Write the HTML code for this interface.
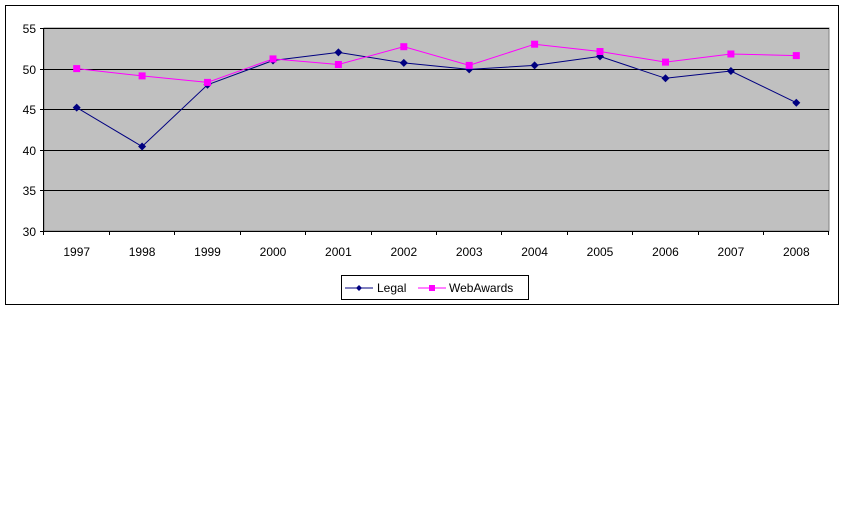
<!DOCTYPE html>
<html><head><meta charset="utf-8"><style>body{margin:0;background:#fff}svg{display:block}</style></head><body>
<svg width="845" height="512" xmlns="http://www.w3.org/2000/svg" font-family="Liberation Sans, Arial, sans-serif" font-size="12">
<rect x="5.5" y="5.5" width="833" height="299" fill="#fff" stroke="#000"/>
<rect x="44" y="28" width="785" height="203" fill="#c0c0c0" stroke="#808080"/>
<g stroke="#000" stroke-width="1">
<line x1="44" y1="28.5" x2="829" y2="28.5"/>
<line x1="44" y1="69.5" x2="829" y2="69.5"/>
<line x1="44" y1="109.5" x2="829" y2="109.5"/>
<line x1="44" y1="150.5" x2="829" y2="150.5"/>
<line x1="44" y1="190.5" x2="829" y2="190.5"/>
<line x1="44" y1="231.5" x2="829" y2="231.5"/>
<line x1="43.5" y1="28" x2="43.5" y2="232"/>
<line x1="40" y1="28.5" x2="44" y2="28.5"/><line x1="40" y1="69.5" x2="44" y2="69.5"/><line x1="40" y1="109.5" x2="44" y2="109.5"/><line x1="40" y1="150.5" x2="44" y2="150.5"/><line x1="40" y1="190.5" x2="44" y2="190.5"/><line x1="40" y1="231.5" x2="44" y2="231.5"/>
<line x1="43.5" y1="231" x2="43.5" y2="235"/><line x1="109.5" y1="231" x2="109.5" y2="235"/><line x1="174.5" y1="231" x2="174.5" y2="235"/><line x1="240.5" y1="231" x2="240.5" y2="235"/><line x1="305.5" y1="231" x2="305.5" y2="235"/><line x1="371.5" y1="231" x2="371.5" y2="235"/><line x1="436.5" y1="231" x2="436.5" y2="235"/><line x1="501.5" y1="231" x2="501.5" y2="235"/><line x1="567.5" y1="231" x2="567.5" y2="235"/><line x1="632.5" y1="231" x2="632.5" y2="235"/><line x1="698.5" y1="231" x2="698.5" y2="235"/><line x1="763.5" y1="231" x2="763.5" y2="235"/><line x1="828.5" y1="231" x2="828.5" y2="235"/>
</g>
<g text-anchor="end">
<text x="36" y="33">55</text><text x="36" y="74">50</text><text x="36" y="114">45</text><text x="36" y="155">40</text><text x="36" y="195">35</text><text x="36" y="236">30</text>
</g>
<g text-anchor="middle">
<text x="76.7" y="256">1997</text><text x="142.1" y="256">1998</text><text x="207.5" y="256">1999</text><text x="273" y="256">2000</text><text x="338.4" y="256">2001</text><text x="403.8" y="256">2002</text><text x="469.2" y="256">2003</text><text x="534.6" y="256">2004</text><text x="600" y="256">2005</text><text x="665.5" y="256">2006</text><text x="730.9" y="256">2007</text><text x="796.3" y="256">2008</text>
</g>
<polyline fill="none" stroke="#000080" points="76.7,107.6 142.1,146.5 207.5,84.8 273,60.5 338.4,52.4 403.8,62.9 469.2,69.4 534.6,65.4 600,56.4 665.5,78.3 730.9,71 796.3,102.7"/>
<polyline fill="none" stroke="#ff00ff" points="76.7,68.6 142.1,75.9 207.5,82.4 273,58.9 338.4,64.5 403.8,46.7 469.2,65.4 534.6,44.2 600,51.5 665.5,62.1 730.9,54 796.3,55.6"/>
<g fill="#000080">
<path d="M76.7,103.6l4,4l-4,4l-4,-4z"/><path d="M142.1,142.5l4,4l-4,4l-4,-4z"/><path d="M207.5,80.8l4,4l-4,4l-4,-4z"/><path d="M273,56.5l4,4l-4,4l-4,-4z"/><path d="M338.4,48.4l4,4l-4,4l-4,-4z"/><path d="M403.8,58.9l4,4l-4,4l-4,-4z"/><path d="M469.2,65.4l4,4l-4,4l-4,-4z"/><path d="M534.6,61.4l4,4l-4,4l-4,-4z"/><path d="M600,52.4l4,4l-4,4l-4,-4z"/><path d="M665.5,74.3l4,4l-4,4l-4,-4z"/><path d="M730.9,67l4,4l-4,4l-4,-4z"/><path d="M796.3,98.7l4,4l-4,4l-4,-4z"/>
</g>
<g fill="#ff00ff">
<rect x="73.2" y="65.1" width="7" height="7"/><rect x="138.6" y="72.4" width="7" height="7"/><rect x="204" y="78.9" width="7" height="7"/><rect x="269.5" y="55.4" width="7" height="7"/><rect x="334.9" y="61" width="7" height="7"/><rect x="400.3" y="43.2" width="7" height="7"/><rect x="465.7" y="61.9" width="7" height="7"/><rect x="531.1" y="40.7" width="7" height="7"/><rect x="596.5" y="48" width="7" height="7"/><rect x="662" y="58.6" width="7" height="7"/><rect x="727.4" y="50.5" width="7" height="7"/><rect x="792.8" y="52.1" width="7" height="7"/>
</g>
<rect x="341.5" y="275.5" width="187" height="24" fill="#fff" stroke="#000"/>
<line x1="345" y1="288" x2="373" y2="288" stroke="#000080"/>
<path d="M359,285l3,3l-3,3l-3,-3z" fill="#000080"/>
<text x="377" y="292">Legal</text>
<line x1="418" y1="288" x2="446" y2="288" stroke="#ff00ff"/>
<rect x="429" y="285" width="6" height="6" fill="#ff00ff"/>
<text x="449" y="292">WebAwards</text>
</svg>
</body></html>
